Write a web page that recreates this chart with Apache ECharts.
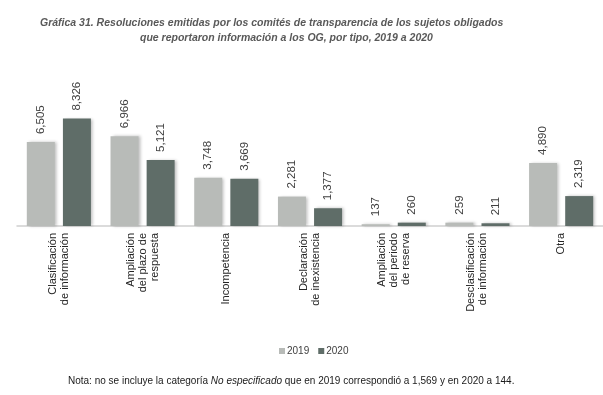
<!DOCTYPE html>
<html><head><meta charset="utf-8">
<script src="https://cdn.jsdelivr.net/npm/echarts@6/dist/echarts.min.js"></script>
<style>html,body{margin:0;padding:0;background:#fff}#c{width:603px;height:395px}</style>
</head><body><div id="c"></div>
<script>
const categories = ['Clasificación\nde información','Ampliación\ndel plazo de\nrespuesta','Incompetencia','Declaración\nde inexistencia','Ampliación\ndel periodo\nde reserva','Desclasificación\nde información','Otra'];
const values2019 = [6505, 6966, 3748, 2281, 137, 259, 4890];
const values2020 = [8326, 5121, 3669, 1377, 260, 211, 2319];
const seriesNames = ['2019', '2020'];

const chart = echarts.init(document.getElementById('c'), null, {renderer:'canvas'});
const font = 'Liberation Sans, Arial, sans-serif';
const lbl = {show:true, position:'top', rotate:90, align:'left', verticalAlign:'middle', distance:8,
  fontFamily:font, fontSize:11.5, color:'#404040', formatter:p=>p.value.toLocaleString('en-US')};
chart.setOption({
  animation:false,
  title:[
    {text:'Gráfica 31. Resoluciones emitidas por los comités de transparencia de los sujetos obligados', left:35, top:13, padding:5,
     textStyle:{fontFamily:font, fontSize:10.5, fontWeight:'bold', fontStyle:'italic', color:'#595959'}},
    {text:'que reportaron información a los OG, por tipo, 2019 a 2020', left:135, top:28, padding:5,
     textStyle:{fontFamily:font, fontSize:10.5, fontWeight:'bold', fontStyle:'italic', color:'#595959'}},
    {text:'{n|Nota: no se incluye la categoría }{i|No especificado}{n| que en 2019 correspondió a 1,569 y en 2020 a 144.}',
     left:63, top:371, padding:5,
     textStyle:{rich:{n:{fontFamily:font, fontSize:10, fontWeight:'normal', color:'#1a1a1a'}, i:{fontFamily:font, fontSize:10, fontWeight:'normal', fontStyle:'italic', color:'#1a1a1a'}}}}
  ],
  legend:{data:seriesNames, left:274, top:341, itemWidth:6, itemHeight:6, itemGap:9, icon:'rect',
    textStyle:{fontFamily:font, fontSize:10, color:'#404040', padding:[0,0,0,-3]}},
  grid:{left:17, right:0, top:97, bottom:169, containLabel:false},
  xAxis:{type:'category', data:categories,
    axisLine:{lineStyle:{color:'#d0d0d0', width:1.5}}, axisTick:{show:false},
    axisLabel:{rotate:90, interval:0, margin:7, fontFamily:font, fontSize:11, color:'#262626', lineHeight:12}},
  yAxis:{type:'value', min:0, max:10000, show:false, splitLine:{show:false}},
  series:[
    {name:seriesNames[0], type:'bar', data:values2019, barWidth:28, barGap:'29%',
     itemStyle:{color:'#b8bbb8', shadowColor:'rgba(0,0,0,0.25)', shadowBlur:3, shadowOffsetX:2, shadowOffsetY:0}, label:lbl},
    {name:seriesNames[1], type:'bar', data:values2020, barWidth:28,
     itemStyle:{color:'#5f6d68', shadowColor:'rgba(0,0,0,0.25)', shadowBlur:3, shadowOffsetX:2, shadowOffsetY:0}, label:lbl}
  ]
});
</script></body></html>
